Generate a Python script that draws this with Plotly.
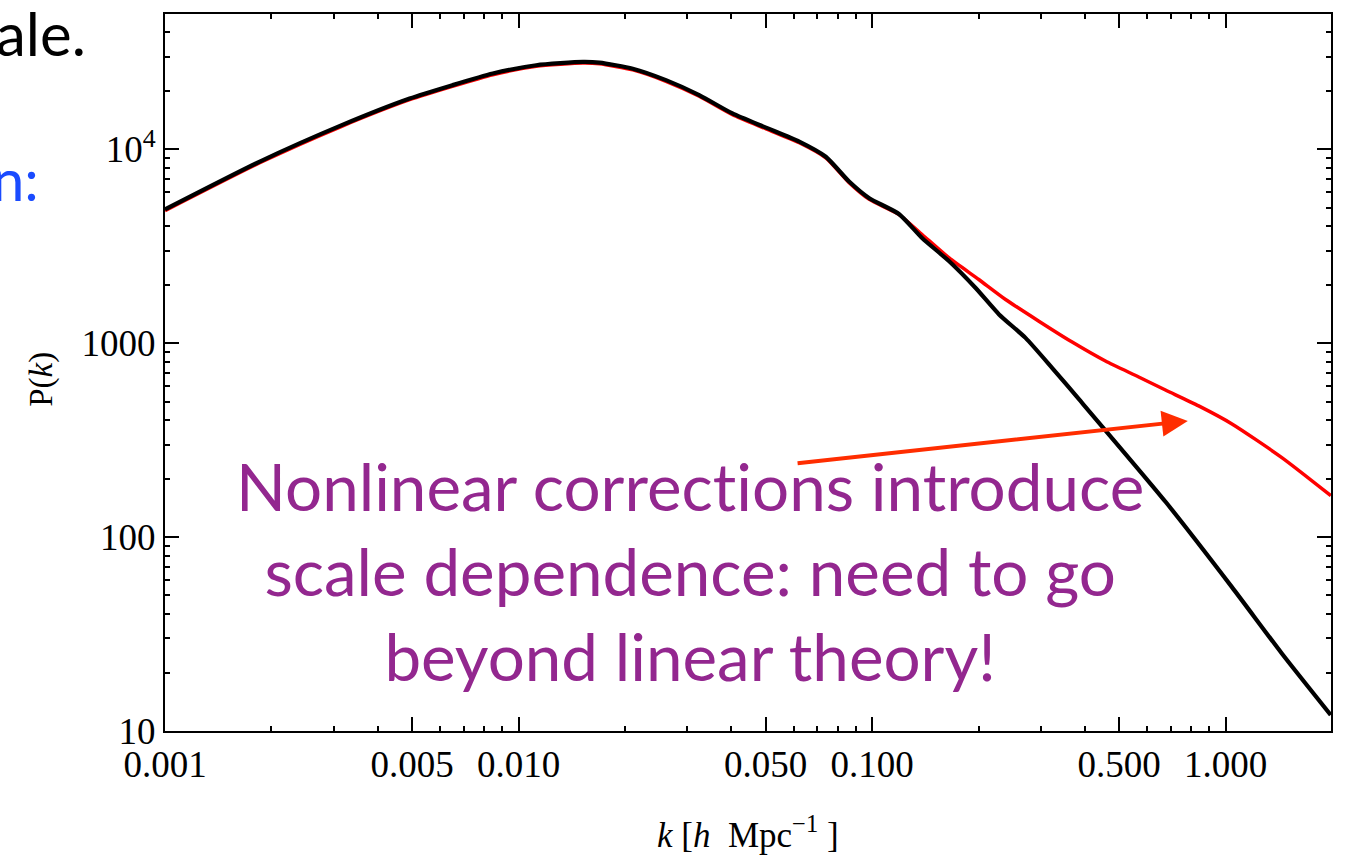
import plotly.graph_objects as go

# Linear power spectrum (black)
k_lin = [0.001, 0.001854, 0.003162, 0.004920, 0.006500, 0.008453, 0.01122, 0.01521, 0.01694,
         0.02104, 0.02612, 0.03243, 0.04027, 0.05012, 0.06223, 0.07396, 0.08610,
         0.09817, 0.1191, 0.1387, 0.1652, 0.1963, 0.2286, 0.2716, 0.3228,
         0.3846, 0.6761, 1.042, 1.442, 1.982]
p_lin = [4887, 8630, 13300, 18240, 21380, 24550, 27100, 28180, 27930,
         26000, 22700, 19010, 15280, 12910, 10940, 9141, 6808,
         5585, 4634, 3475, 2642, 1923, 1406, 1064, 746,
         514, 152, 55.2, 25.1, 12.1]

# Nonlinear power spectrum (red)
k_nl = [0.001, 0.001854, 0.003162, 0.004920, 0.006500, 0.008453, 0.01122, 0.01521, 0.01694,
        0.02104, 0.02612, 0.03243, 0.04027, 0.05012, 0.06223, 0.07396, 0.08610,
        0.09817, 0.1191, 0.1387, 0.1652, 0.2004, 0.2385, 0.2963, 0.3680, 0.4571,
        0.5677, 0.6756, 0.8390, 1.042, 1.442, 1.984]
p_nl = [4820, 8510, 13120, 17990, 21090, 24210, 26730, 27790, 27550,
        25640, 22390, 18750, 15070, 12730, 10790, 9015, 6715,
        5508, 4600, 3622, 2748, 2128, 1679, 1297, 1012, 808,
        669, 573, 474.5, 383, 257, 163.5]

x_tickvals = [0.001, 0.005, 0.01, 0.05, 0.1, 0.5, 1.0]
x_ticktext = ["0.001", "0.005", "0.010", "0.050", "0.100", "0.500", "1.000"]
x_minor = [m * d for d in (0.001, 0.01, 0.1, 1.0) for m in (2, 3, 4, 6, 7, 8, 9)]

y_tickvals = [10, 100, 1000, 10000]
y_ticktext = ["10", "100", "1000", "10<sup>4</sup>"]
y_minor = [m * d for d in (10, 100, 1000, 10000) for m in range(2, 10)]

serif = "Liberation Serif, Times New Roman, serif"

fig = go.Figure()
fig.add_trace(go.Scatter(x=k_nl, y=p_nl, mode="lines",
                         line=dict(color="#FF0000", width=3.5, shape="spline", smoothing=0.6),
                         showlegend=False))
fig.add_trace(go.Scatter(x=k_lin, y=p_lin, mode="lines",
                         line=dict(color="#000000", width=4.2, shape="spline", smoothing=0.6),
                         showlegend=False))

axis_common = dict(
    showline=True, linecolor="black", linewidth=2, mirror="allticks",
    ticks="inside", ticklen=14, tickwidth=2, tickcolor="black",
    showgrid=False, zeroline=False,
    tickfont=dict(family=serif, size=37, color="black"),
)

fig.update_xaxes(type="log", range=[-3, 0.298], tickmode="array",
                 tickvals=x_tickvals, ticktext=x_ticktext,
                 minor=dict(tickmode="array", tickvals=x_minor, ticks="inside",
                            ticklen=5, tickwidth=1.5, tickcolor="black", showgrid=False),
                 **axis_common)
fig.update_yaxes(type="log", range=[1, 4.697], tickmode="array",
                 tickvals=y_tickvals, ticktext=y_ticktext,
                 minor=dict(tickmode="array", tickvals=y_minor, ticks="inside",
                            ticklen=5, tickwidth=1.5, tickcolor="black", showgrid=False),
                 **axis_common)

annotations = [
    # axis titles
    dict(text="<i>k</i> [<i>h</i>\u00a0\u00a0Mpc<sup>\u22121</sup>\u00a0]", xref="paper", yref="paper",
         x=0.5, y=(731 - 857) / 719, xanchor="center", yanchor="bottom", showarrow=False,
         font=dict(family=serif, size=35, color="black")),
    dict(text="P(<i>k</i>)", xref="paper", yref="paper", textangle=-90,
         x=-0.1054, y=0.49, xanchor="center", yanchor="middle", showarrow=False,
         font=dict(family=serif, size=33, color="black")),
    # arrow
    dict(x=-0.107, y=2.599, xref="x", yref="y", ax=-1.215, ay=2.38, axref="x", ayref="y",
         text="", showarrow=True, arrowhead=2, arrowsize=1.3, arrowwidth=4,
         arrowcolor="#FF2D00", standoff=0),
    # message
    dict(text="Nonlinear correct\u200cions introduce<br>scale dependence: need to go<br>beyond linear theory!",
         xref="paper", yref="paper", x=0.4499, y=0.2239, xanchor="center", yanchor="middle",
         showarrow=False, align="center",
         font=dict(family="Lato, sans-serif", size=65.5, color="#93278F")),
    # slide remnants
    dict(text="ale.", xref="paper", yref="paper", x=(-6 - 165) / 1167, y=(731 - 31) / 719,
         xanchor="left", yanchor="middle", showarrow=False,
         font=dict(family="Lato, sans-serif", size=60, color="black")),
    dict(text="n:", xref="paper", yref="paper", x=(-10 - 165) / 1167, y=(731 - 177) / 719,
         xanchor="left", yanchor="middle", showarrow=False,
         font=dict(family="Lato, sans-serif", size=58, color="#1A4BFF")),
]

fig.update_layout(
    width=1345, height=858,
    margin=dict(l=165, r=13, t=12, b=127),
    paper_bgcolor="white", plot_bgcolor="white",
    annotations=annotations,
    showlegend=False,
)

fig.write_html("out.html")
